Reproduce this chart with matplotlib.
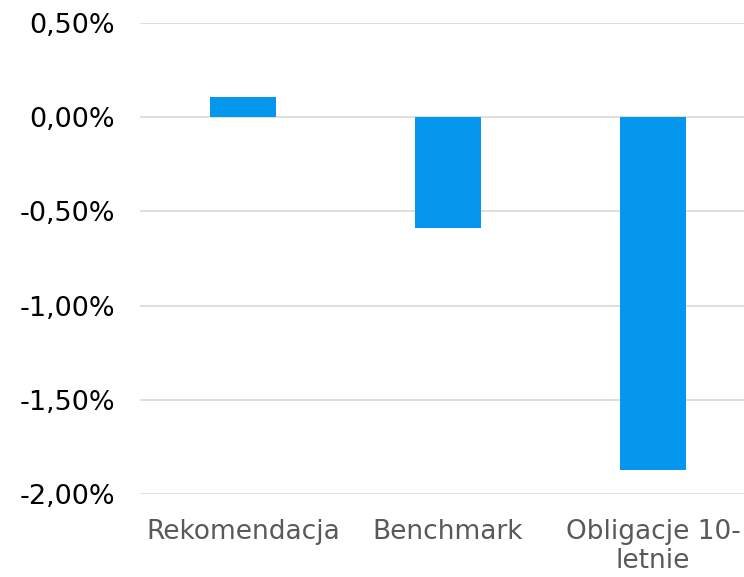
import matplotlib
matplotlib.use("Agg")
import matplotlib.pyplot as plt
from matplotlib.ticker import FuncFormatter

categories = ["Rekomendacja", "Benchmark", "Obligacje 10-\nletnie"]
values = [0.11, -0.59, -1.87]  # percent
yticks = [0.5, 0.0, -0.5, -1.0, -1.5, -2.0]

fig = plt.figure(figsize=(7.44, 5.77), dpi=100)
ax = fig.add_axes([0.188, 0.1438, 0.812, 0.8162])

x = list(range(len(categories)))
ax.bar(x, values, width=0.32, color="#0596EE", zorder=3)

ax.set_ylim(-2.0, 0.5)
ax.set_xlim(-0.502, 2.444)
ax.set_yticks(yticks)
ax.yaxis.set_major_formatter(FuncFormatter(lambda v, p: f"{v:.2f}%".replace(".", ",")))
ax.set_xticks(x)
ax.set_xticklabels(categories, fontsize=19, color="#595959", linespacing=1.15)
ax.tick_params(axis="y", length=0, pad=18, labelsize=19.5, labelcolor="black")
ax.tick_params(axis="x", length=0, pad=18)
ax.grid(axis="y", color="#d9d9d9", linewidth=1.2, zorder=0)
for s in ax.spines.values():
    s.set_visible(False)

fig.savefig("out.png", dpi=100)
